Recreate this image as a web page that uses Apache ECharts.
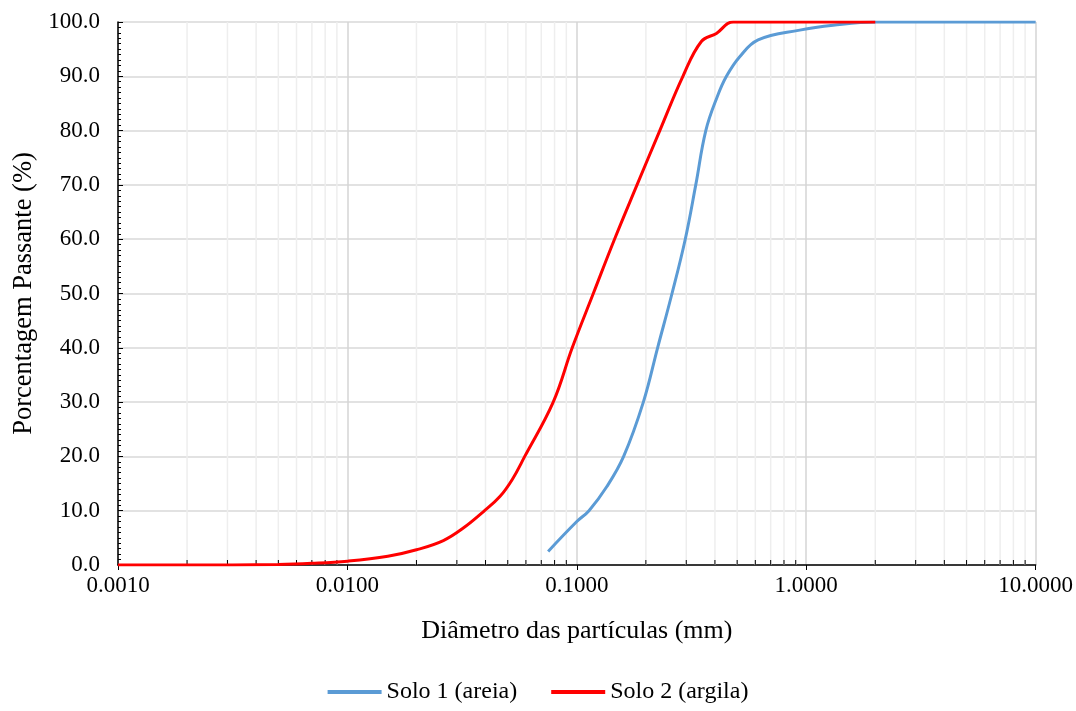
<!DOCTYPE html>
<html>
<head>
	<meta charset="utf-8">
	<title>curva granulometrica</title>
	<script src="https://cdn.jsdelivr.net/npm/echarts@6/dist/echarts.min.js"></script>
	<style type="text/css">
		*{margin:0;padding:0;}
		body{background:#fff;}
		#main{width:1076px;height:711px;}
	</style>
</head>
<body>
	<div id="main"></div>
	<script type="text/javascript">
		// Solo 1 (areia)
		var solo1Diam = [0.075, 0.1, 0.113, 0.135, 0.16, 0.195, 0.225, 0.260, 0.297, 0.330, 0.365, 0.409, 0.449, 0.513, 0.617, 0.937, 1.31, 2.0, 4.75, 10.0];
		var solo1Pass = [2.5, 8.0, 10.0, 14.4, 20.0, 30.0, 40.0, 50.0, 60.0, 70.0, 80.0, 86.2, 90.0, 93.6, 96.7, 98.5, 99.4, 100.0, 100.0, 100.0];
		// Solo 2 (argila)
		var solo2Diam = [0.001, 0.002, 0.005, 0.007, 0.01, 0.015, 0.02, 0.0262, 0.032, 0.0391, 0.0462, 0.0524, 0.0593, 0.0789, 0.0955, 0.118, 0.146, 0.183, 0.230, 0.290, 0.349, 0.406, 0.48, 2.0];
		var solo2Pass = [0.0, 0.0, 0.1, 0.3, 0.7, 1.6, 2.8, 4.5, 6.8, 9.8, 12.6, 15.8, 20.0, 30.0, 40.0, 50.0, 60.0, 70.0, 80.0, 90.0, 96.4, 97.9, 100.0, 100.0];

		var seriesNames = ['Solo 1 (areia)', 'Solo 2 (argila)'];
		var xTitle = 'Diâmetro das partículas (mm)';
		var yTitle = 'Porcentagem Passante (%)';

		// minor log ticks 2..9 in each decade
		var decades = [0.001, 0.01, 0.1, 1];
		var minorTicks = [];
		for (var d = 0; d < decades.length; d++) {
			for (var m = 2; m <= 9; m++) {
				minorTicks.push([decades[d] * m, 0]);
			}
		}

		function pairs(xs, ys) {
			var out = [];
			for (var i = 0; i < xs.length; i++) out.push([xs[i], ys[i]]);
			return out;
		}

		var font = '"Liberation Serif", "Times New Roman", serif';
		var myChart = echarts.init(document.getElementById('main'));

		var option = {
			animation: false,
			textStyle: {fontFamily: font},
			grid: {left: 118, right: 40, top: 22, bottom: 146},
			legend: {
				bottom: 2,
				data: seriesNames,
				icon: 'rect',
				itemWidth: 54,
				itemHeight: 4,
				itemGap: 34,
				textStyle: {fontFamily: font, fontSize: 24, color: '#000'}
			},
			xAxis: {
				type: 'log',
				logBase: 10,
				min: 0.001,
				max: 10,
				name: xTitle,
				nameLocation: 'middle',
				nameGap: 53,
				nameTextStyle: {fontFamily: font, fontSize: 26, color: '#000'},
				axisLine: {lineStyle: {color: '#000', width: 1.5}},
				axisTick: {show: true, length: 5, lineStyle: {color: '#000'}},
				axisLabel: {
					margin: 9,
					fontFamily: font, fontSize: 23, color: '#000',
					formatter: function (v) { return v.toFixed(4); }
				},
				splitLine: {show: true, lineStyle: {color: '#d4d4d4', width: 1.5}}
			},
			yAxis: {
				type: 'value',
				min: 0,
				max: 100,
				interval: 10,
				name: yTitle,
				nameLocation: 'middle',
				nameGap: 77,
				nameTextStyle: {fontFamily: font, fontSize: 26.5, color: '#000'},
				axisLine: {show: true, lineStyle: {color: '#000', width: 1.5}},
				axisTick: {show: true, inside: true, length: 5, lineStyle: {color: '#000'}},
				minorTick: {show: true, splitNumber: 10, length: 3, lineStyle: {color: '#000'}},
				axisLabel: {
					margin: 18,
					fontFamily: font, fontSize: 23, color: '#000',
					formatter: function (v) { return v.toFixed(1); }
				},
				splitLine: {show: true, lineStyle: {color: '#d9d9d9', width: 1.5}}
			},
			series: [
				{
					name: 'minor',
					type: 'custom',
					silent: true,
					z: 1,
					data: minorTicks,
					renderItem: function (params, api) {
						var bot = api.coord([api.value(0), 0]);
						var top = api.coord([api.value(0), 100]);
						return {
							type: 'group',
							children: [
								{type: 'line', shape: {x1: bot[0], y1: bot[1], x2: top[0], y2: top[1]},
								 style: {stroke: '#eeeeee', lineWidth: 1.5}},
								{type: 'line', shape: {x1: bot[0], y1: bot[1], x2: bot[0], y2: bot[1] - 5},
								 style: {stroke: '#000', lineWidth: 1}}
							]
						};
					}
				},
				{
					name: seriesNames[0],
					type: 'line',
					smooth: 0.4,
					showSymbol: false,
					z: 3,
					data: pairs(solo1Diam, solo1Pass),
					itemStyle: {color: '#5b9bd5'},
					lineStyle: {color: '#5b9bd5', width: 3}
				},
				{
					name: seriesNames[1],
					type: 'line',
					smooth: 0.4,
					showSymbol: false,
					z: 4,
					data: pairs(solo2Diam, solo2Pass),
					itemStyle: {color: '#ff0000'},
					lineStyle: {color: '#ff0000', width: 3}
				}
			]
		};
		myChart.setOption(option);
	</script>
</body>
</html>
